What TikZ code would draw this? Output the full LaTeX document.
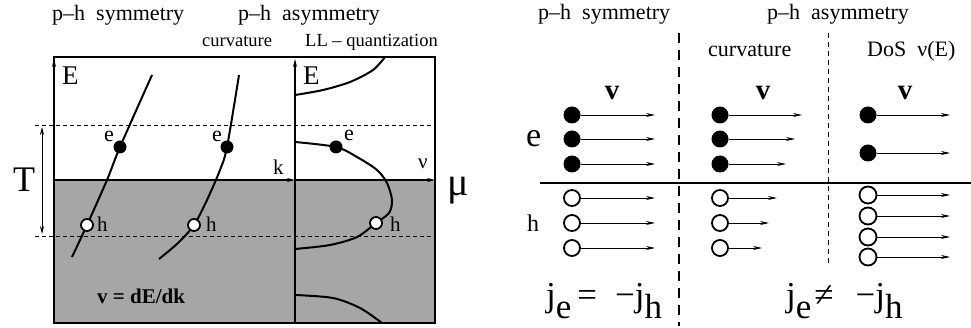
\documentclass[tikz,border=0pt]{standalone}
\usepackage{fontspec}
\setmainfont{Liberation Serif}
\usetikzlibrary{arrows.meta}
\begin{document}
\begin{tikzpicture}[x=1pt,y=-1pt,
  txt/.style={font=\fontsize{#1}{#1}\selectfont,inner sep=0pt,anchor=base west},
  axis/.style={line width=1.1pt,-{Stealth[length=8pt,width=4pt]}},
  tdash/.style={line width=0.7pt,dash pattern=on 4pt off 3pt},
  band/.style={line width=2pt},
  elec/.style={circle,fill=black,inner sep=0pt,minimum size=#1},
  hole/.style={circle,draw=black,fill=white,line width=1.8pt,inner sep=0pt,minimum size=#1},
  vel/.style={line width=0.9pt,-{Stealth[length=9pt,width=4pt]}},
  divA/.style={line width=1.3pt,dash pattern=on 10pt off 7pt},
  divB/.style={line width=0.8pt,dash pattern=on 5pt off 4pt}
]
\useasboundingbox (0,0) rectangle (971,328);

% ---------------- left panel ----------------
\fill[black!35] (54,180) rectangle (435,323);
\draw[line width=1.2pt] (54,57) rectangle (435,323);
\coordinate (Eb1) at (54,323); \coordinate (Et1) at (54,59);
\coordinate (Eb2) at (295,323); \coordinate (Et2) at (295,59);
\draw[axis] (Eb1) -- (Et1);
\draw[axis] (Eb2) -- (Et2);
\coordinate (F0) at (54,180); \coordinate (Fk) at (295,180); \coordinate (Fn) at (435,180);
\draw[axis] (F0) -- (Fk);
\draw[axis] (Fk) -- (Fn);
\coordinate (Da1) at (35,125); \coordinate (Da2) at (435,125);
\coordinate (Db1) at (35,236); \coordinate (Db2) at (435,236);
\draw[tdash] (Da1) -- (Da2);
\draw[tdash] (Db1) -- (Db2);
\coordinate (Tt) at (42,127); \coordinate (Tb) at (42,234);
\draw[line width=0.8pt,{Stealth[length=8pt,width=4pt]}-{Stealth[length=8pt,width=4pt]}] (Tt) -- (Tb);

% dispersion curves
\draw[band] plot[smooth] coordinates {(72,257) (87,225) (107,180) (120,147) (152,75)};
\draw[band] plot[smooth] coordinates {(159,259) (178,243) (194,225) (207,200) (220,170) (227,147) (239,75)};
% LL curves
\draw[band] plot[smooth] coordinates {(295,95) (323,90) (350,82) (373,70) (385,57)};
\draw[band] plot[smooth] coordinates {(295,142) (336,147) (357,157) (377,170) (387,183) (392,200) (389,213) (376,223) (357,237) (330,245) (295,249)};
\draw[band] plot[smooth] coordinates {(295,295) (333,298) (360,308) (382,323)};

\node[elec=13pt] (e1) at (120,147) {};
\node[elec=13pt] (e2) at (227,147) {};
\node[elec=13pt] (e3) at (336,147) {};
\node[hole=12pt] (h1) at (87,225) {};
\node[hole=12pt] (h2) at (194,225) {};
\node[hole=12pt] (h3) at (376,223) {};

\node[txt=22] (le1) at (104,142) {e};
\node[txt=22] (le2) at (212,142) {e};
\node[txt=22] (le3) at (344,141) {e};
\node[txt=21] (lh1) at (97,232) {h};
\node[txt=21] (lh2) at (206,232) {h};
\node[txt=21] (lh3) at (390,232) {h};

\node[txt=27] (lE1) at (62,85) {E};
\node[txt=27] (lE2) at (303,85) {E};
\node[txt=21] (lk) at (273,175) {k};
\node[txt=21] (lnu) at (418,169) {ν};
\node[txt=36] (lT) at (13,192) {T};
\node[txt=40] (lmu) at (447,196) {μ};
\node[txt=20,font=\fontsize{21}{21}\selectfont\bfseries] (lv) at (97,304) {v = dE/dk};

\node[txt=22] (t1) at (52,21) {p–h\ \ symmetry};
\node[txt=22] (t2) at (238,21) {p–h\ \ asymmetry};
\node[txt=18.5] (t3) at (202,47) {curvature};
\node[txt=18.5] (t4) at (305,47) {LL – quantization};

% ---------------- right panel ----------------
\node[txt=22] (r1) at (538,20) {p–h\ \ symmetry};
\node[txt=22] (r2) at (767,20) {p–h\ \ asymmetry};
\node[txt=22] (r3) at (708,57) {curvature};
\node[txt=22] (r4) at (867,57) {DoS\ \ ν(E)};

\coordinate (dA1) at (679,33); \coordinate (dA2) at (679,326);
\coordinate (dB1) at (828,33); \coordinate (dB2) at (828,265);
\draw[divA] (dA1) -- (dA2);
\draw[divB] (dB1) -- (dB2);
\coordinate (hz1) at (540,183); \coordinate (hz2) at (971,183);
\draw[line width=1.2pt] (hz1) -- (hz2);

\node[txt=28,font=\fontsize{29}{29}\selectfont\bfseries,anchor=base] (v1) at (612,100) {v};
\node[txt=28,font=\fontsize{29}{29}\selectfont\bfseries,anchor=base] (v2) at (763,100) {v};
\node[txt=28,font=\fontsize{29}{29}\selectfont\bfseries,anchor=base] (v3) at (905,100) {v};

\node[txt=34] (re) at (526,147) {e};
\node[txt=24] (rh) at (527,232) {h};

% left group
\foreach \y [count=\i] in {115,139,164} {
  \node[elec=17pt] (A\i) at (572,\y) {};
  \coordinate (Ae\i) at (655,\y);
  \draw[vel] (A\i) -- (Ae\i);
}
\foreach \y [count=\i] in {198,223,248} {
  \node[hole=16pt] (B\i) at (572,\y) {};
  \coordinate (Be\i) at (655,\y);
  \draw[vel] (B\i) -- (Be\i);
}
% middle group
\foreach \y/\xe [count=\i] in {115/802,139/795,164/786} {
  \node[elec=17pt] (C\i) at (720,\y) {};
  \coordinate (Ce\i) at (\xe,\y);
  \draw[vel] (C\i) -- (Ce\i);
}
\foreach \y/\xe [count=\i] in {198/777,223/769,248/762} {
  \node[hole=16pt] (D\i) at (720,\y) {};
  \coordinate (De\i) at (\xe,\y);
  \draw[vel] (D\i) -- (De\i);
}
% right group
\foreach \y [count=\i] in {115,153} {
  \node[elec=17pt] (G\i) at (868,\y) {};
  \coordinate (Ge\i) at (950,\y);
  \draw[vel] (G\i) -- (Ge\i);
}
\foreach \y [count=\i] in {195,216,237,257} {
  \node[hole=17pt] (H\i) at (868,\y) {};
  \coordinate (He\i) at (950,\y);
  \draw[vel] (H\i) -- (He\i);
}

\node[txt=35] (j1) at (546,307) {j\raisebox{-12pt}{e}\hspace{6pt}=\hspace{18pt}−j\raisebox{-12pt}{h}};
\node[txt=35] (j2) at (786,307) {j\raisebox{-12pt}{e}\hspace{3pt}≠\hspace{22pt}−j\raisebox{-12pt}{h}};
\end{tikzpicture}
\end{document}
